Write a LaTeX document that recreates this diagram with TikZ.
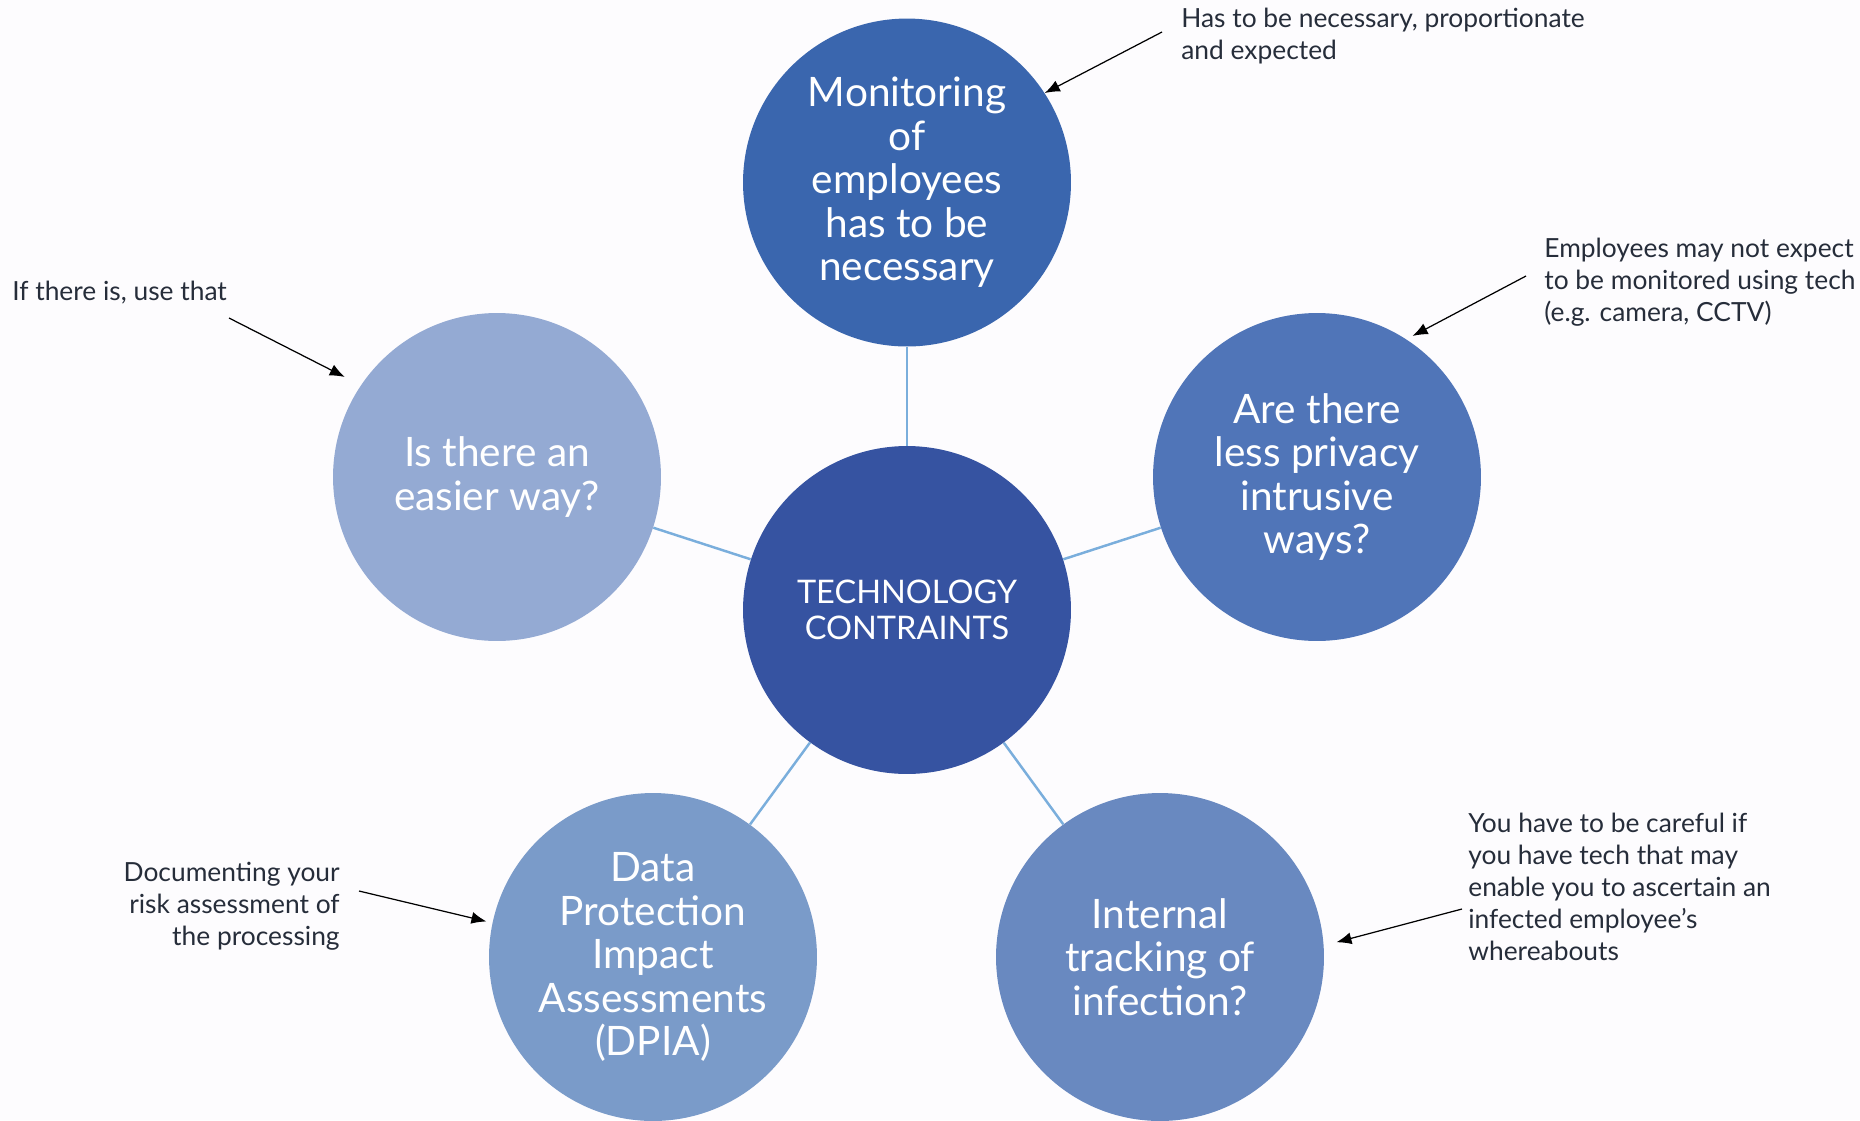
\documentclass[tikz,border=0pt]{standalone}
\usepackage{fontspec}
\setmainfont{Lato}
\usepackage{tkz-euclide}
\usetikzlibrary{arrows.meta}

\definecolor{bgpage}{RGB}{253,252,254}
\definecolor{hubblue}{RGB}{54,83,161}
\definecolor{topblue}{RGB}{58,102,174}
\definecolor{rightblue}{RGB}{80,117,184}
\definecolor{leftblue}{RGB}{148,170,211}
\definecolor{dpiablue}{RGB}{122,155,201}
\definecolor{trackblue}{RGB}{105,137,192}
\definecolor{spokeblue}{RGB}{122,174,220}
\definecolor{notegray}{RGB}{38,45,58}

\tikzset{
	bubble/.style={circle,minimum size=6.56cm,inner sep=0pt,align=center,text=white,
		font=\fontsize{23.1}{24.8}\selectfont},
	spoke/.style={draw=spokeblue,line width=1.4pt},
	note/.style={inner sep=0pt,text=notegray,font=\fontsize{15}{18.2}\selectfont},
	pointer/.style={-{Latex[length=0.3cm,width=0.24cm]},line width=0.7pt,black},
}

\begin{document}
\begin{tikzpicture}[x=0.02cm,y=-0.02cm]
		\fill[bgpage] (0,0) rectangle (1860,1120);
		\useasboundingbox (0,0) rectangle (1860,1120);
		%\draw[help lines,step=100] (0,0) grid (1860,1120);
		\tkzDefPoints{907/610/C, 907/179/T, 1317/477/R, 497/477/L, 653/957/D, 1160/957/I}
		\tkzDefPoints{1162/32/t1, 1526/276/r1, 229/318/l1, 359/891/d1, 1462/909/i1}
		
		\node[bubble,fill=hubblue,font=\fontsize{18.5}{20.3}\selectfont] (hub) at (C) {TECHNOLOGY\\CONTRAINTS};
		\node[bubble,fill=topblue] (necessary) at ([yshift=-2]T) {Monitoring\\of\\employees\\has to be\\necessary};
		\node[bubble,fill=rightblue] (intrusive) at (R) {Are there\\less privacy\\intrusive\\ways?};
		\node[bubble,fill=leftblue] (easier) at (L) {Is there an\\easier way?};
		\node[bubble,fill=dpiablue] (dpia) at (D) {Data\\Protection\\Impact\\Assessments\\(DPIA)};
		\node[bubble,fill=trackblue] (tracking) at (I) {Internal\\tracking of\\infection?};
		
		\foreach \b in {necessary,intrusive,easier,dpia,tracking}
			\draw[spoke] (hub) -- (\b);
		
		\node[note,anchor=west,align=left] (n1) at (1181,36) {Has to be necessary, proportionate\\and expected};
		\node[note,anchor=west,align=left] (n2) at (1544,282) {Employees may not expect\\to be monitored using tech\\(e.g. camera, CCTV)};
		\node[note,anchor=west,align=left] (n3) at (12,293) {If there is, use that};
		\node[note,anchor=east,align=right] (n4) at (340,906) {Documenting your\\risk assessment of\\the processing};
		\node[note,anchor=west,align=left] (n5) at (1468,887) {You have to be careful if\\you have tech that may\\enable you to ascertain an\\infected employee’s\\whereabouts};
		
		\draw[pointer] (t1) -- (necessary.33);
		\draw[pointer,shorten >=0.14cm] (r1) -- (intrusive.57);
		\draw[pointer,shorten >=0.36cm] (l1) -- (easier.146);
		\draw[pointer,shorten >=0.12cm] (d1) -- (dpia.168);
		\draw[pointer,shorten >=0.26cm] (i1) -- (tracking.4);
	\end{tikzpicture}
\end{document}
